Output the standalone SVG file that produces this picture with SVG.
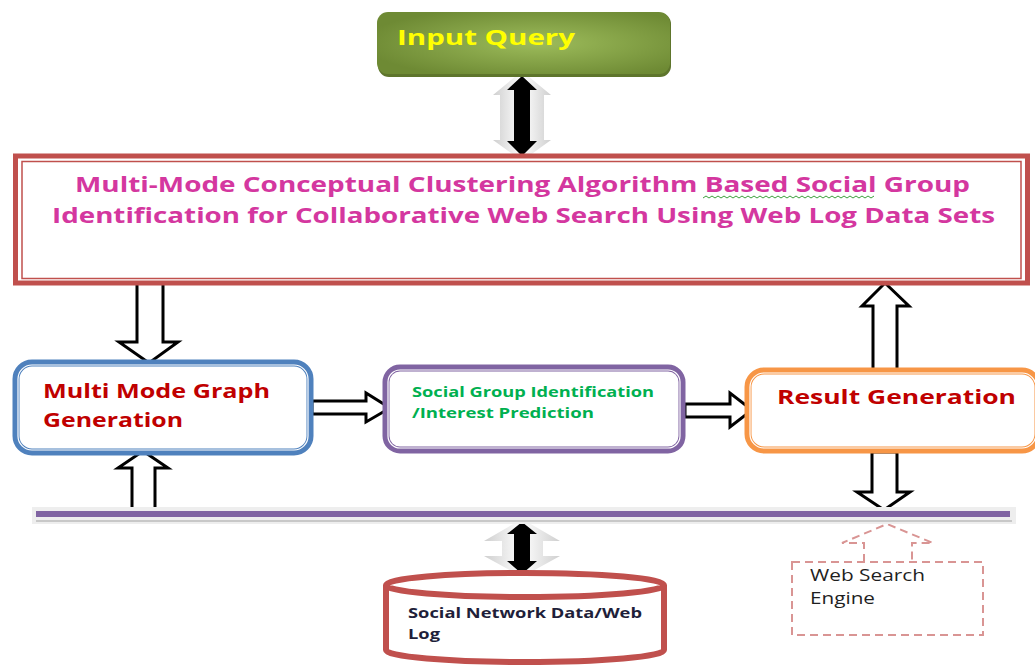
<svg xmlns="http://www.w3.org/2000/svg" width="1035" height="665" viewBox="0 0 1035 665">
<style>
.hollow{fill:#fff;stroke:#000;stroke-width:3;stroke-linejoin:miter}
.blk{fill:#000}
.glow{fill:url(#gGlow)}
.t{font-family:"Open Sans","Liberation Sans",sans-serif;font-weight:bold}
.title{fill:#D4379F;font-size:21px}
.red{fill:#C00000;font-size:19px}
.grn{fill:#00B050;font-size:14px}
.db{fill:#1F1F3A;font-size:15px}
.ws{font-family:"Open Sans","Liberation Sans",sans-serif;font-size:17px;fill:#1F1F1F}
.dash{fill:none;stroke:#D99594;stroke-width:2;stroke-dasharray:8 5}
</style>
<defs>
<radialGradient id="gIQ" cx="0.55" cy="0.5" r="0.6">
<stop offset="0" stop-color="#9DBC5B"/>
<stop offset="1" stop-color="#6E8A34"/>
</radialGradient>
<linearGradient id="gGlow" x1="0" y1="0" x2="1" y2="0">
<stop offset="0" stop-color="#CFCFCF"/>
<stop offset="0.5" stop-color="#FFFFFF"/>
<stop offset="1" stop-color="#CFCFCF"/>
</linearGradient>
</defs>

<g id="connectors">
<!-- Input Query <-> main -->
<polygon class="glow" points="522,71 551,95 544,95 544,140 551,140 522,161 493,140 500,140 500,95 493,95"/>
<polygon class="blk" points="522,76 537,90 530,90 530,141 537,141 522,156 507,141 514,141 514,90 507,90"/>
<!-- main -> Multi Mode -->
<polygon class="hollow" points="137,283 163,283 163,342 178,342 149,363 119,342 137,342"/>
<!-- bus -> Multi Mode -->
<polygon class="hollow" points="143,451 168,468 155,468 155,510 132,510 132,468 118,468"/>
<!-- MM -> SG -->
<polygon class="hollow" points="312,401 366,401 366,393 390,408 366,422 366,414 312,414"/>
<!-- SG -> RG -->
<polygon class="hollow" points="685,404 730,404 730,393 752,410 730,427 730,417 685,417"/>
<!-- RG -> main -->
<polygon class="hollow" points="885,283 909,306 897,306 897,370 873,370 873,306 862,306"/>
<!-- RG -> bus -->
<polygon class="hollow" points="872,452 897,452 897,492 910,492 884,510 857,492 872,492"/>
<!-- bus <-> DB -->
<polygon class="glow" points="522,519 560,541 543,541 543,556 560,556 522,577 484,556 502,556 502,541 484,541"/>
<polygon class="blk" points="522,522 537,534 530,534 530,561 537,561 522,574 507,561 514,561 514,534 507,534"/>
<!-- Web Search Engine dashed arrow -->
<polyline class="dash" points="864,562 864,543 842,543 887,524 933,543 912,543 912,562"/>
</g>

<g id="bus">
<rect x="32" y="507" width="984" height="17" fill="#EEEEEE"/>
<rect x="36" y="511" width="974" height="6" fill="#8064A2"/>
<line x1="36" y1="521" x2="1012" y2="521" stroke="#C8C8C8" stroke-width="2"/>
</g>

<g id="input-query">
<rect x="378" y="13" width="293" height="64" rx="11" fill="#5E752C"/>
<rect x="377" y="12" width="293" height="62" rx="11" fill="url(#gIQ)"/>
<text x="397" y="45" class="t" font-size="22" fill="#FFFF00" textLength="178" lengthAdjust="spacingAndGlyphs">Input Query</text>
</g>

<g id="main-box">
<rect x="15.5" y="156" width="1012" height="127" fill="#fff" stroke="#C0504D" stroke-width="5"/>
<rect x="22" y="161.5" width="999" height="117" fill="none" stroke="#C0504D" stroke-width="1.5"/>
<text x="75" y="192" class="t title" textLength="895" lengthAdjust="spacingAndGlyphs">Multi-Mode Conceptual Clustering Algorithm Based  Social Group</text>
<text x="52" y="223" class="t title" textLength="943" lengthAdjust="spacingAndGlyphs">Identification for Collaborative Web Search Using Web Log Data Sets</text>
<path d="M703,198 l3,-2 3,2 3,-2 3,2 3,-2 3,2 3,-2 3,2 3,-2 3,2 3,-2 3,2 3,-2 3,2 3,-2 3,2 3,-2 3,2 3,-2 3,2 3,-2 3,2 3,-2 3,2 3,-2 3,2 3,-2 3,2 3,-2 3,2 3,-2 3,2 3,-2 3,2 3,-2 3,2 3,-2 3,2 3,-2 3,2 3,-2 3,2 3,-2 3,2 3,-2 3,2 3,-2 3,2 3,-2 3,2 3,-2 3,2 3,-2 3,2 3,-2 3,2 3,-2" fill="none" stroke="#3BA03B" stroke-width="1"/>
</g>

<g id="multi-mode">
<rect x="16" y="363" width="294" height="89" rx="16" fill="#fff" stroke="#4F81BD" stroke-width="7"/>
<rect x="18" y="365" width="290" height="85" rx="14" fill="none" stroke="#fff" stroke-width="1.2"/>
<text x="43" y="398" class="t red" textLength="227" lengthAdjust="spacingAndGlyphs">Multi Mode Graph</text>
<text x="43" y="427" class="t red" textLength="140" lengthAdjust="spacingAndGlyphs">Generation</text>
</g>

<g id="social-group">
<rect x="386" y="368" width="296" height="82" rx="14" fill="#fff" stroke="#8064A2" stroke-width="7"/>
<rect x="388" y="370" width="292" height="78" rx="12" fill="none" stroke="#fff" stroke-width="1.2"/>
<text x="412" y="397" class="t grn" textLength="242" lengthAdjust="spacingAndGlyphs">Social Group Identification</text>
<text x="412" y="418" class="t grn" textLength="182" lengthAdjust="spacingAndGlyphs">/Interest Prediction</text>
</g>

<g id="result">
<rect x="748" y="371" width="290" height="79" rx="16" fill="#fff" stroke="#F79646" stroke-width="7"/>
<rect x="750" y="373" width="286" height="75" rx="14" fill="none" stroke="#fff" stroke-width="1.2"/>
<text x="777" y="404" class="t red" textLength="239" lengthAdjust="spacingAndGlyphs">Result Generation</text>
</g>

<g id="database">
<path d="M386,585 L386,650 A139,12 0 0 0 664,650 L664,585" fill="#fff" stroke="#C0504D" stroke-width="6"/>
<ellipse cx="525" cy="585" rx="139" ry="12" fill="#fff" stroke="#C0504D" stroke-width="6"/>
<text x="408" y="618" class="t db" textLength="234" lengthAdjust="spacingAndGlyphs">Social Network Data/Web</text>
<text x="408" y="639" class="t db" textLength="32" lengthAdjust="spacingAndGlyphs">Log</text>
</g>

<g id="web-search">
<rect x="792" y="562" width="191" height="73" class="dash"/>
<text x="810" y="581" class="ws" textLength="115" lengthAdjust="spacingAndGlyphs">Web Search</text>
<text x="810" y="604" class="ws" textLength="65" lengthAdjust="spacingAndGlyphs">Engine</text>
</g>
</svg>
